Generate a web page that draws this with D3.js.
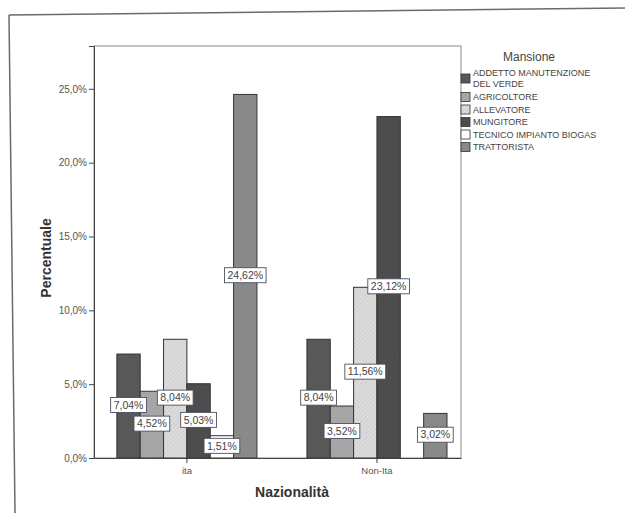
<!DOCTYPE html>
<html>
<head>
<meta charset="utf-8">
<script src="https://cdn.jsdelivr.net/npm/d3@7"></script>
<style>
  html, body { margin: 0; padding: 0; background: #fff; }
  svg { display: block; font-family: "Liberation Sans", Arial, sans-serif; }
</style>
</head>
<body>
<svg id="chart" width="625" height="513"></svg>
<script>
// Nationality groups on the x axis
const groups = ["ita", "Non-Ita"];
// Job roles (legend order)
const roles = ["ADDETTO MANUTENZIONE DEL VERDE", "AGRICOLTORE", "ALLEVATORE", "MUNGITORE", "TECNICO IMPIANTO BIOGAS", "TRATTORISTA"];
// Legend text lines per role
const roleLines = [["ADDETTO MANUTENZIONE", "DEL VERDE"], ["AGRICOLTORE"], ["ALLEVATORE"], ["MUNGITORE"], ["TECNICO IMPIANTO BIOGAS"], ["TRATTORISTA"]];
// Percentages per role, for each nationality (null = no cases)
const valuesIta = [7.04, 4.52, 8.04, 5.03, 1.51, 24.62];
const valuesNonIta = [8.04, 3.52, 11.56, 23.12, null, 3.02];
// Y tick values (percent)
const yTicks = [0, 5, 10, 15, 20, 25];
// Fill colours per role
const roleColors = ["#5a5a5a", "#a9a9a9", "#dcdcdc", "#4e4e4e", "#ffffff", "#8c8c8c"];

const svg = d3.select("#chart");
const fmt = v => v.toFixed(2).replace(".", ",") + "%";
const fmtTick = v => v.toFixed(1).replace(".", ",") + "%";

// Outer frame (page border)
svg.append("line").attr("x1", 9).attr("y1", 15).attr("x2", 625).attr("y2", 8)
  .attr("stroke", "#6a6a6a").attr("stroke-width", 1.5);
svg.append("line").attr("x1", 9).attr("y1", 15).attr("x2", 15).attr("y2", 513)
  .attr("stroke", "#6a6a6a").attr("stroke-width", 1.5);

const plot = { left: 94, right: 461, top: 46, bottom: 458 };

const y = d3.scaleLinear().domain([0, 27.9]).range([plot.bottom, plot.top]);
const x0 = d3.scaleBand().domain(groups).range([plot.left, plot.right])
  .paddingInner(0.263).paddingOuter(0.097).align(0.62);
const x1 = d3.scaleBand().domain(roles).range([0, x0.bandwidth()]).padding(0);

// Plot frame
svg.append("rect")
  .attr("x", plot.left).attr("y", plot.top)
  .attr("width", plot.right - plot.left).attr("height", plot.bottom - plot.top)
  .attr("fill", "none").attr("stroke", "#8a8a8a").attr("stroke-width", 1);

// Fine diagonal texture for bar fills
const defs = svg.append("defs");
roleColors.forEach((c, i) => {
  const p = defs.append("pattern").attr("id", "pat" + i)
    .attr("patternUnits", "userSpaceOnUse").attr("width", 3).attr("height", 3)
    .attr("patternTransform", "rotate(45)");
  p.append("rect").attr("width", 3).attr("height", 3).attr("fill", c);
  if (i !== 4) {
    p.append("line").attr("x1", 0).attr("y1", 0).attr("x2", 0).attr("y2", 3)
      .attr("stroke", d3.color(c).darker(0.35)).attr("stroke-width", 1);
  }
});

const data = groups.map((g, gi) => ({
  group: g,
  vals: roles.map((r, ri) => ({ role: r, ri, value: gi === 0 ? valuesIta[ri] : valuesNonIta[ri] }))
}));

const gGroups = svg.selectAll("g.grp").data(data).join("g")
  .attr("class", "grp")
  .attr("transform", d => `translate(${x0(d.group)},0)`);

gGroups.selectAll("rect").data(d => d.vals.filter(v => v.value != null)).join("rect")
  .attr("x", d => x1(d.role))
  .attr("y", d => y(d.value))
  .attr("width", x1.bandwidth())
  .attr("height", d => y(0) - y(d.value))
  .attr("fill", d => `url(#pat${d.ri})`)
  .attr("stroke", "#333").attr("stroke-width", 1);

// Axes
const yAxis = d3.axisLeft(y).tickValues(yTicks).tickFormat(fmtTick).tickSize(5).tickPadding(2);
const gy = svg.append("g").attr("transform", `translate(${plot.left},0)`).call(yAxis);
gy.select(".domain").attr("stroke", "#444");
gy.selectAll(".tick line").attr("stroke", "#444");
gy.selectAll(".tick text").attr("fill", "#555").attr("font-size", 10)
  .attr("font-family", "Liberation Sans, Arial, sans-serif");

const xAxis = d3.axisBottom(x0).tickSize(5).tickPadding(4).tickSizeOuter(0);
const gx = svg.append("g").attr("transform", `translate(0,${plot.bottom})`).call(xAxis);
gx.select(".domain").attr("stroke", "#444");
gx.selectAll(".tick line").attr("stroke", "#444");
gx.selectAll(".tick text").attr("fill", "#555").attr("font-size", 9.5)
  .attr("font-family", "Liberation Sans, Arial, sans-serif");

// Value labels at bar mid-height
const labels = gGroups.selectAll("g.lbl").data(d => d.vals.filter(v => v.value != null)).join("g")
  .attr("class", "lbl")
  .attr("transform", d => `translate(${x1(d.role) + x1.bandwidth() / 2},${(y(d.value) + y(0)) / 2 - 1})`);
labels.each(function (d) {
  const g = d3.select(this);
  const t = g.append("text").text(fmt(d.value))
    .attr("text-anchor", "middle").attr("dy", "0.35em")
    .attr("font-size", 10.5).attr("fill", "#444");
  const w = t.node().getComputedTextLength() + 6;
  g.insert("rect", "text")
    .attr("x", -w / 2).attr("y", -7.5).attr("width", w).attr("height", 15)
    .attr("fill", "#fff").attr("stroke", "#4a5060").attr("stroke-width", 0.9);
});

// Axis titles
svg.append("text").text("Nazionalità")
  .attr("x", 292).attr("y", 497).attr("text-anchor", "middle")
  .attr("font-size", 14).attr("font-weight", "bold").attr("fill", "#333");
svg.append("text").text("Percentuale")
  .attr("transform", "translate(51,258) rotate(-90)").attr("text-anchor", "middle")
  .attr("font-size", 14).attr("font-weight", "bold").attr("fill", "#333");

// Legend
svg.append("text").text("Mansione")
  .attr("x", 529).attr("y", 61).attr("text-anchor", "middle")
  .attr("font-size", 12).attr("fill", "#444");

const rowY = [73, 97, 109.5, 122, 134.5, 147];
const leg = svg.append("g");
roles.forEach((r, i) => {
  const lines = roleLines[i];
  const cy = lines.length > 1 ? rowY[i] + 5.5 : rowY[i];
  leg.append("rect").attr("x", 461).attr("y", cy - 4.5).attr("width", 9).attr("height", 9)
    .attr("fill", `url(#pat${i})`).attr("stroke", "#333").attr("stroke-width", 0.8);
  lines.forEach((ln, k) => {
    leg.append("text").text(ln)
      .attr("x", 473).attr("y", rowY[i] + k * 11).attr("dy", "0.35em")
      .attr("font-size", 9).attr("fill", "#444");
  });
});
</script>
</body>
</html>
